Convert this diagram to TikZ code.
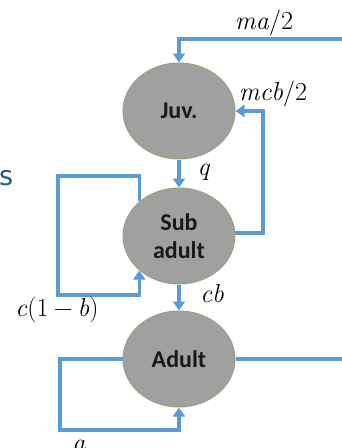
\documentclass[tikz,border=0pt]{standalone}
\usepackage{fontspec}
\usetikzlibrary{arrows.meta,shapes.geometric}
\newfontfamily\nodefont{Carlito}
\newfontfamily\sfont{DejaVu Sans}
\definecolor{flowblue}{RGB}{91,155,213}
\definecolor{stategray}{RGB}{160,160,160}
\definecolor{stateedge}{RGB}{150,165,125}
\definecolor{tealtext}{RGB}{30,90,130}
\begin{document}
\begin{tikzpicture}[x=1pt,y=-1pt,
  state/.style={ellipse, draw=stateedge, line width=1pt, fill=stategray,
    minimum width=112pt, minimum height=96pt, inner sep=0pt, align=center,
    font=\nodefont\bfseries\fontsize{24}{28}\selectfont, text=black!90},
  flow/.style={draw=flowblue, line width=3.5pt, -{Triangle[width=12pt,length=9pt]}},
  link/.style={draw=flowblue, line width=3.5pt},
  lab/.style={font=\fontsize{26}{30}\selectfont, inner sep=0pt}]
\useasboundingbox[fill=white] (0,0) rectangle (342,448);

\node[state] (juv) at (179,111) {Juv.};
\node[state] (sub) at (179,236) {Sub\\adult};
\node[state] (adult) at (179,359) {Adult};

\coordinate (t0) at (342,39);
\coordinate (m1) at (263,111);
\coordinate (l1) at (58,176);
\coordinate (l2) at (58,295);
\coordinate (a0) at (342,359);
\coordinate (b1) at (60,430);

\draw[flow] (t0) -| (juv.north);
\draw[flow] (sub.3) -| (m1) -- (juv.east);
\draw[flow] (juv.south) -- (sub.north);
\draw[flow] (sub.139) |- (l1) -- (l2) -| (sub.221);
\draw[flow] (sub.south) -- (adult.north);
\draw[link] (adult.east) -- (a0);
\draw[flow] (adult.west) -| (b1) -| (adult.south);

\node[lab] (lma) at (264,23) {\textit{ma}/2};
\node[lab] (lmcb) at (273,94) {\textit{mcb}/2};
\node[lab] (lq) at (204,172) {\textit{q}};
\node[lab] (lcb) at (212,294) {\textit{cb}};
\node[lab] (lc) at (57,310) {\textit{c}(1\hspace{0.2em}−\hspace{0.2em}\textit{b})};
\node[lab] (la) at (79,446) {\textit{a}};
\node[anchor=base west, inner sep=0pt, text=tealtext,
  font=\sfont\fontsize{27}{30}\selectfont] (ls) at (-1,185) {s};
\end{tikzpicture}
\end{document}
